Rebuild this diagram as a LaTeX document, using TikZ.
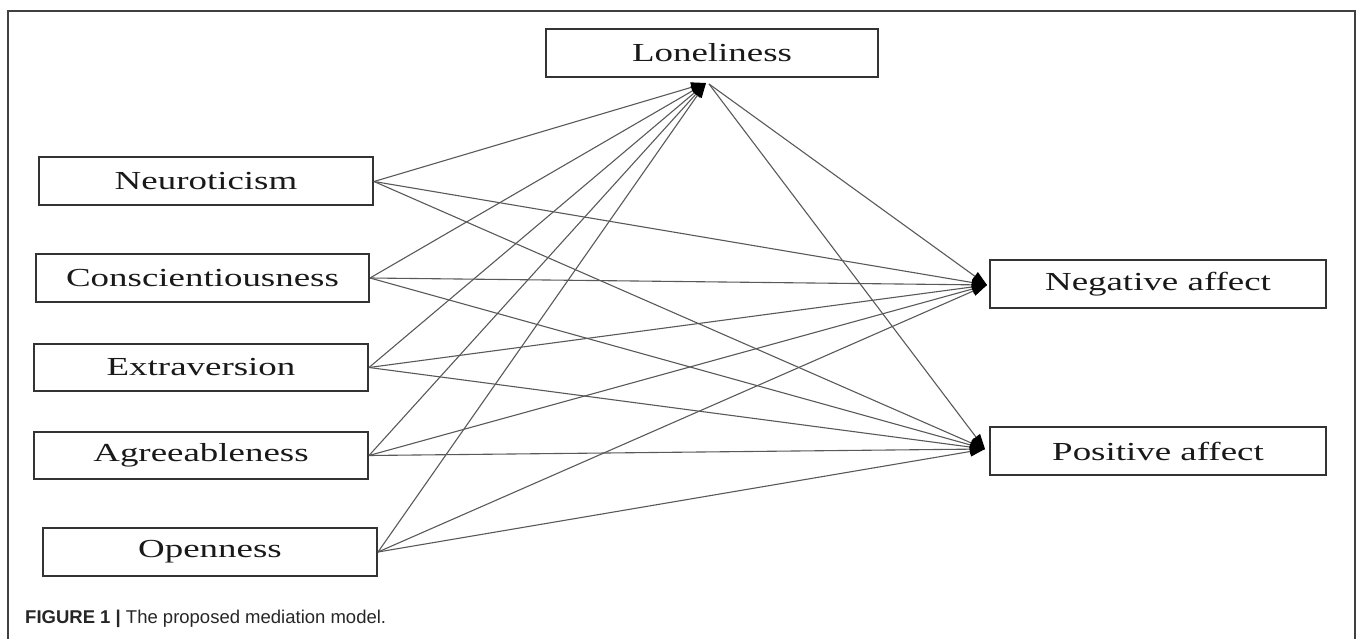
\documentclass[tikz,border=0pt]{standalone}
\usepackage{fontspec}
\setmainfont{Liberation Serif}
\newfontfamily\boxfont[FakeStretch=1.42]{Liberation Serif}
\newfontfamily\capfont{Liberation Sans}
\usetikzlibrary{arrows.meta}
\begin{document}
\begin{tikzpicture}[x=1pt,y=-1pt,
  box/.style={draw=black!80, line width=2pt, minimum width=334pt, minimum height=48pt,
    inner sep=0pt, font=\boxfont\fontsize{26}{30}\selectfont, text=black!90},
  link/.style={draw=black!65, line width=1.1pt,
    -{Triangle[length=15pt,width=10pt,color=black]}},
  frameline/.style={draw=black!75, line width=1.5pt}]
\useasboundingbox (0,0) rectangle (1358,639);
\draw[frameline] (8,639) -- (8,11) -- (1355,11) -- (1355,639);

\node[box] (neu) at (206,181.5) {Neuroticism};
\node[box, minimum width=333pt] (con) at (202.5,278) {Conscientiousness};
\node[box, minimum height=47pt] (ext) at (201,367.5) {Extraversion};
\node[box, minimum height=47pt] (agr) at (201,455.5) {Agreeableness};
\node[box] (ope) at (210,552) {Openness};
\node[box, minimum width=332pt] (lon) at (712,53) {Loneliness};
\node[box, minimum width=336pt] (neg) at (1158,284) {Negative affect};
\node[box, minimum width=336pt] (pos) at (1158,451) {Positive affect};

\coordinate (lonIn) at (706,83);
\coordinate (lonOut) at (709,84);
\coordinate (negIn) at (987,285);
\coordinate (posIn) at (985,449);

\foreach \s in {neu,con,ext,agr,ope}{
  \draw[link] (\s.east) -- (lonIn);
  \draw[link] (\s.east) -- (negIn);
  \draw[link] (\s.east) -- (posIn);
}
\draw[link] (lonOut) -- (negIn);
\draw[link] (lonOut) -- (posIn);

\node[anchor=base west, inner sep=0pt, font=\capfont\fontsize{18.5}{22}\selectfont, text=black!85]
  (cap) at (25,623) {\textbf{FIGURE 1 |} The proposed mediation model.};
\end{tikzpicture}
\end{document}
